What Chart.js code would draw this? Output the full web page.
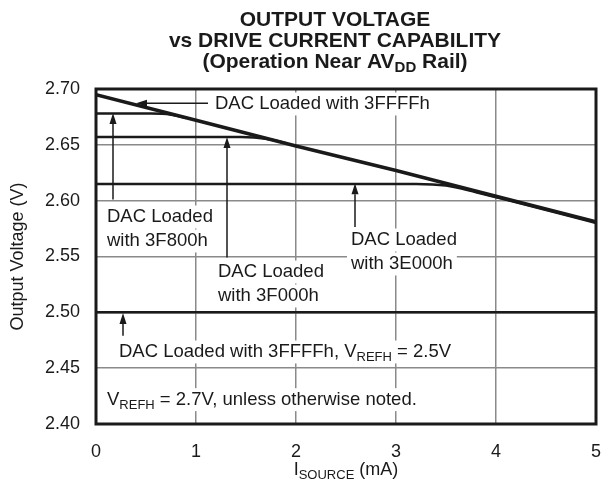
<!DOCTYPE html>
<html>
<head>
<meta charset="utf-8">
<script src="https://cdn.jsdelivr.net/npm/chart.js@4"></script>
<style>
  html, body { margin: 0; padding: 0; background: #fff; }
  canvas { display: block; }
</style>
</head>
<body>
<canvas id="driveChart" width="601" height="489"></canvas>
<script>
// source current (mA) and output voltage (V) for each DAC code
const currentFull = [0, 1, 2, 3, 4, 5];
const vout3FFFF = [2.695, 2.672, 2.649, 2.627, 2.604, 2.581];

const current3F800 = [0, 0.55, 0.75, 0.9];
const vout3F800 = [2.678, 2.678, 2.677, 2.674];

const current3F000 = [0, 1.45, 1.7, 1.9];
const vout3F000 = [2.657, 2.657, 2.6555, 2.6515];

const current3E000 = [0, 3.2, 3.5, 3.8, 5];
const vout3E000 = [2.615, 2.615, 2.6135, 2.6075, 2.580];

const currentRef25 = [0, 5];
const voutRef25 = [2.50, 2.50];

const xTicks = [0, 1, 2, 3, 4, 5];
const yTicks = [2.40, 2.45, 2.50, 2.55, 2.60, 2.65, 2.70];

const FONT = "'Liberation Sans', Arial, Helvetica, sans-serif";
const INK = "#1a1a1a";

function points(xs, ys) {
  return xs.map((x, i) => ({ x: x, y: ys[i] }));
}

// text runs, sub: true drops the run to a subscript
function runWidth(ctx, runs, size, weight) {
  let w = 0;
  runs.forEach(r => {
    ctx.font = `${weight} ${r.sub ? Math.round(size * 0.72) : size}px ${FONT}`;
    w += ctx.measureText(r.t).width;
  });
  return w;
}

function drawRuns(ctx, runs, x, y, size, weight, align) {
  weight = weight || "normal";
  const w = runWidth(ctx, runs, size, weight);
  let cx = align === "center" ? x - w / 2 : x;
  ctx.textBaseline = "middle";
  ctx.textAlign = "left";
  ctx.fillStyle = INK;
  runs.forEach(r => {
    const s = r.sub ? Math.round(size * 0.72) : size;
    ctx.font = `${weight} ${s}px ${FONT}`;
    ctx.fillText(r.t, cx, r.sub ? y + size * 0.3 : y);
    cx += ctx.measureText(r.t).width;
  });
  return w;
}

function whiteBox(ctx, runs, x, y, size) {
  const w = runWidth(ctx, runs, size, "normal");
  ctx.fillStyle = "#fff";
  ctx.fillRect(x - 4, y - size * 0.62, w + 8, size * 1.24);
}

function arrow(ctx, x1, y1, x2, y2) {
  // line from (x1,y1) with a filled head at (x2,y2)
  const ang = Math.atan2(y2 - y1, x2 - x1);
  const len = 11, half = 3.5;
  ctx.strokeStyle = INK;
  ctx.lineWidth = 1.5;
  ctx.beginPath();
  ctx.moveTo(x1, y1);
  ctx.lineTo(x2 - Math.cos(ang) * len, y2 - Math.sin(ang) * len);
  ctx.stroke();
  ctx.fillStyle = INK;
  ctx.beginPath();
  ctx.moveTo(x2, y2);
  ctx.lineTo(x2 - Math.cos(ang) * len - Math.sin(ang) * half, y2 - Math.sin(ang) * len + Math.cos(ang) * half);
  ctx.lineTo(x2 - Math.cos(ang) * len + Math.sin(ang) * half, y2 - Math.sin(ang) * len - Math.cos(ang) * half);
  ctx.closePath();
  ctx.fill();
}

// callouts: text block anchored in data units, arrow pointing at a curve
const notes = [
  { lines: [[{ t: "DAC Loaded with 3FFFFh" }]], at: [1.19, 2.6866], arrow: [[1.12, 2.6872], [0.40, 2.6872]] },
  { lines: [[{ t: "DAC Loaded" }], [{ t: "with 3F800h" }]], at: [0.11, 2.5854], arrow: [[0.17, 2.6010], [0.17, 2.6785]] },
  { lines: [[{ t: "DAC Loaded" }], [{ t: "with 3F000h" }]], at: [1.22, 2.5361], arrow: [[1.31, 2.5490], [1.31, 2.6570]] },
  { lines: [[{ t: "DAC Loaded" }], [{ t: "with 3E000h" }]], at: [2.55, 2.5648], arrow: [[2.59, 2.5765], [2.59, 2.6155]] },
  { lines: [[{ t: "DAC Loaded with 3FFFFh, V" }, { t: "REFH", sub: true }, { t: " = 2.5V" }]], at: [0.23, 2.4645], arrow: [[0.27, 2.4790], [0.27, 2.4995]] },
  { lines: [[{ t: "V" }, { t: "REFH", sub: true }, { t: " = 2.7V, unless otherwise noted." }]], at: [0.11, 2.4218] }
];

const labelSize = 18.5;
const lineGap = 24;

const decorations = {
  id: "decorations",
  beforeDatasetsDraw(chart) {
    const { ctx, scales: { x, y } } = chart;
    ctx.save();
    notes.forEach(n => {
      const px = x.getPixelForValue(n.at[0]);
      const py = y.getPixelForValue(n.at[1]);
      n.lines.forEach((runs, i) => whiteBox(ctx, runs, px, py + i * lineGap, labelSize));
    });
    ctx.restore();
  },
  afterDatasetsDraw(chart) {
    const { ctx, scales: { x, y } } = chart;
    ctx.save();
    notes.forEach(n => {
      const px = x.getPixelForValue(n.at[0]);
      const py = y.getPixelForValue(n.at[1]);
      n.lines.forEach((runs, i) => drawRuns(ctx, runs, px, py + i * lineGap, labelSize));
      if (n.arrow) {
        const [a, b] = n.arrow;
        arrow(ctx, x.getPixelForValue(a[0]), y.getPixelForValue(a[1]),
          x.getPixelForValue(b[0]), y.getPixelForValue(b[1]));
      }
    });
    ctx.restore();
  },
  afterDraw(chart) {
    const { ctx, chartArea: a } = chart;
    ctx.save();
    // frame
    ctx.strokeStyle = INK;
    ctx.lineWidth = 3;
    ctx.strokeRect(a.left, a.top, a.right - a.left, a.bottom - a.top);

    // title block
    drawRuns(ctx, [{ t: "OUTPUT VOLTAGE" }], 335, 20, 21, "bold", "center");
    drawRuns(ctx, [{ t: "vs DRIVE CURRENT CAPABILITY" }], 335, 41, 21, "bold", "center");
    drawRuns(ctx, [{ t: "(Operation Near AV" }, { t: "DD", sub: true }, { t: " Rail)" }], 335, 62, 21, "bold", "center");

    // axis titles
    drawRuns(ctx, [{ t: "I" }, { t: "SOURCE", sub: true }, { t: " (mA)" }], (a.left + a.right) / 2, 470, 18, "normal", "center");
    ctx.translate(18, (a.top + a.bottom) / 2);
    ctx.rotate(-Math.PI / 2);
    drawRuns(ctx, [{ t: "Output Voltage (V)" }], 0, 0, 18, "normal", "center");
    ctx.restore();
  }
};

const thin = { borderColor: INK, borderWidth: 2.5, pointRadius: 0, fill: false, cubicInterpolationMode: "monotone" };

new Chart(document.getElementById("driveChart"), {
  type: "line",
  data: {
    datasets: [
      { label: "3FFFFh", data: points(currentFull, vout3FFFF), borderColor: INK, borderWidth: 3.5, pointRadius: 0, fill: false },
      Object.assign({ label: "3F800h", data: points(current3F800, vout3F800) }, thin),
      Object.assign({ label: "3F000h", data: points(current3F000, vout3F000) }, thin),
      Object.assign({ label: "3E000h", data: points(current3E000, vout3E000) }, thin),
      Object.assign({ label: "3FFFFh, VREFH = 2.5V", data: points(currentRef25, voutRef25) }, thin)
    ]
  },
  options: {
    responsive: false,
    devicePixelRatio: 1,
    animation: false,
    layout: { padding: { top: 89, right: 5, left: 0, bottom: 0 } },
    plugins: { legend: { display: false }, tooltip: { enabled: false }, title: { display: false } },
    scales: {
      x: {
        type: "linear",
        min: xTicks[0],
        max: xTicks[xTicks.length - 1],
        afterBuildTicks: s => { s.ticks = xTicks.map(v => ({ value: v })); },
        afterFit: s => { s.height = 65; s.paddingLeft = 0; s.paddingRight = 0; },
        ticks: { color: INK, font: { family: FONT, size: 18 }, padding: 17, maxRotation: 0 },
        grid: { color: "#8a8a8a", lineWidth: 1.5, drawTicks: false },
        border: { display: false }
      },
      y: {
        type: "linear",
        min: yTicks[0],
        max: yTicks[yTicks.length - 1],
        afterBuildTicks: s => { s.ticks = yTicks.map(v => ({ value: v })); },
        afterFit: s => { s.width = 96; s.paddingTop = 0; s.paddingBottom = 0; },
        ticks: { color: INK, font: { family: FONT, size: 18 }, padding: 16, callback: v => Number(v).toFixed(2) },
        grid: { color: "#8a8a8a", lineWidth: 1.5, drawTicks: false },
        border: { display: false }
      }
    }
  },
  plugins: [decorations]
});
</script>
</body>
</html>
